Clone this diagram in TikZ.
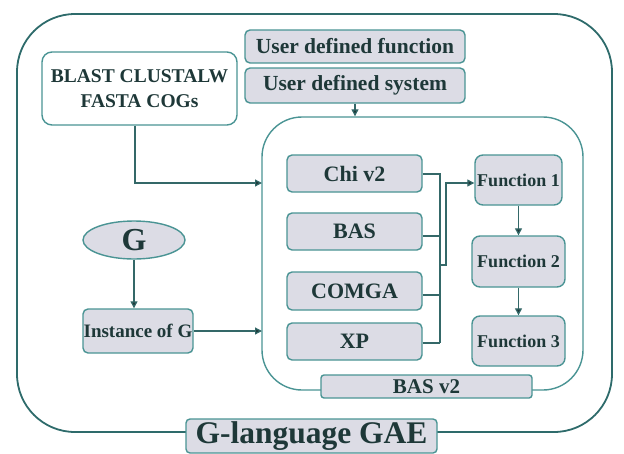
\documentclass[tikz,border=0pt]{standalone}
\usepackage{fontspec}
\setmainfont{Liberation Serif}[BoldFont={Liberation Serif Bold}]
\newfontfamily\tms{Liberation Serif}[BoldFont={Liberation Serif Bold}]
\usetikzlibrary{arrows.meta,shapes.geometric}
\definecolor{edge}{HTML}{4A9494}
\definecolor{outer}{HTML}{2E6B6B}
\definecolor{boxfill}{HTML}{DCDCE5}
\definecolor{ink}{HTML}{1E3838}
\newcommand{\fs}[1]{\tms\bfseries\fontsize{#1}{#1}\selectfont}
\tikzset{
  gbox/.style={draw=edge,line width=1.4pt,fill=boxfill,rounded corners=5pt,inner sep=0pt,text=ink},
  wbox/.style={draw=edge,line width=1.4pt,fill=white,inner sep=0pt},
  conn/.style={draw=edge!70!black,line width=1.2pt},
  arr/.style={conn,-{Triangle[length=7pt,width=7pt,fill=ink]}}
}
\begin{document}
\begin{tikzpicture}[x=1pt,y=-1pt]
\useasboundingbox (0,0) rectangle (624,453);
% outer frame
\draw[outer,line width=1.8pt,rounded corners=58pt] (17,14) rectangle (612,432);
% inner frame
\node[wbox,rounded corners=40pt,minimum width=321pt,minimum height=273pt] (inner) at (422.5,253.5) {};
% top boxes
\node[gbox,minimum width=220pt,minimum height=33pt,font=\fs{21.5}] (ufunc) at (355,46.5) {User defined function};
\node[gbox,minimum width=220pt,minimum height=35pt,font=\fs{21.5}] (usys) at (355,85.5) {User defined system};
% blast box
\node[wbox,rounded corners=10pt,minimum width=195pt,minimum height=73pt,text=ink,align=center,font=\fs{19.5}] (blast) at (139.5,88.5) {BLAST CLUSTALW\\[6pt]FASTA COGs};
% left tools
\node[gbox,minimum width=135pt,minimum height=37pt,font=\fs{22}] (chi) at (354.5,173.5) {Chi v2};
\node[gbox,minimum width=135pt,minimum height=37pt,font=\fs{22}] (bas) at (354.5,231.5) {BAS};
\node[gbox,minimum width=135pt,minimum height=38pt,font=\fs{22}] (comga) at (354.5,291) {COMGA};
\node[gbox,minimum width=135pt,minimum height=37pt,font=\fs{22}] (xp) at (354.5,341.5) {XP};
% functions
\node[gbox,rounded corners=8pt,minimum width=87pt,minimum height=50pt,font=\fs{18}] (f1) at (518.5,180) {Function 1};
\node[gbox,rounded corners=8pt,minimum width=93pt,minimum height=51pt,font=\fs{18}] (f2) at (518.5,261.5) {Function 2};
\node[gbox,rounded corners=8pt,minimum width=93pt,minimum height=50pt,font=\fs{18}] (f3) at (518.5,341) {Function 3};
% BAS v2
\node[gbox,rounded corners=3pt,minimum width=211pt,minimum height=23pt,font=\fs{21}] (basv2) at (426.5,386.5) {BAS v2};
% G and instance
\node[draw=edge,line width=1.4pt,fill=boxfill,ellipse,minimum width=102pt,minimum height=38pt,inner sep=0pt,text=ink,font=\fs{32}] (g) at (134,240) {G};
\node[gbox,minimum width=110pt,minimum height=44pt,font=\fs{19}] (inst) at (138,331) {Instance of G};
% GAE label
\node[gbox,rounded corners=4pt,minimum width=251pt,minimum height=34pt,font=\fs{31.5}] (gae) at (311.5,436) {G-language GAE};
% coordinates
\coordinate (blin) at (262,183);
\coordinate (instin) at (262,331);
\coordinate (bus1) at (440,174);
\coordinate (bus2) at (440,236);
\coordinate (bus3) at (440,295);
\coordinate (bus4) at (440,343);
\coordinate (busj) at (440,265);
\coordinate (busk) at (446,265);
\coordinate (busl) at (446,183);
\coordinate (f1in) at (f1.west |- busl);
% connectors
\draw[arr] (usys.south) -- (inner.north -| usys.south);
\draw[arr] (blast.south -| 135,0) |- (blin);
\draw[arr] (g.south) -- (inst.north -| g.south);
\draw[arr] (inst.east) -- (instin);
\draw[conn] (chi.east |- bus1) -- (bus1) -- (bus4);
\draw[conn] (bas.east |- bus2) -- (bus2);
\draw[conn] (comga.east |- bus3) -- (bus3);
\draw[conn] (xp.east |- bus4) -- (bus4);
\draw[arr] (busj) -- (busk) -- (busl) -- (f1in);
\draw[arr] (f1.south) -- (f2.north);
\draw[arr] (f2.south) -- (f3.north);
\end{tikzpicture}
\end{document}
